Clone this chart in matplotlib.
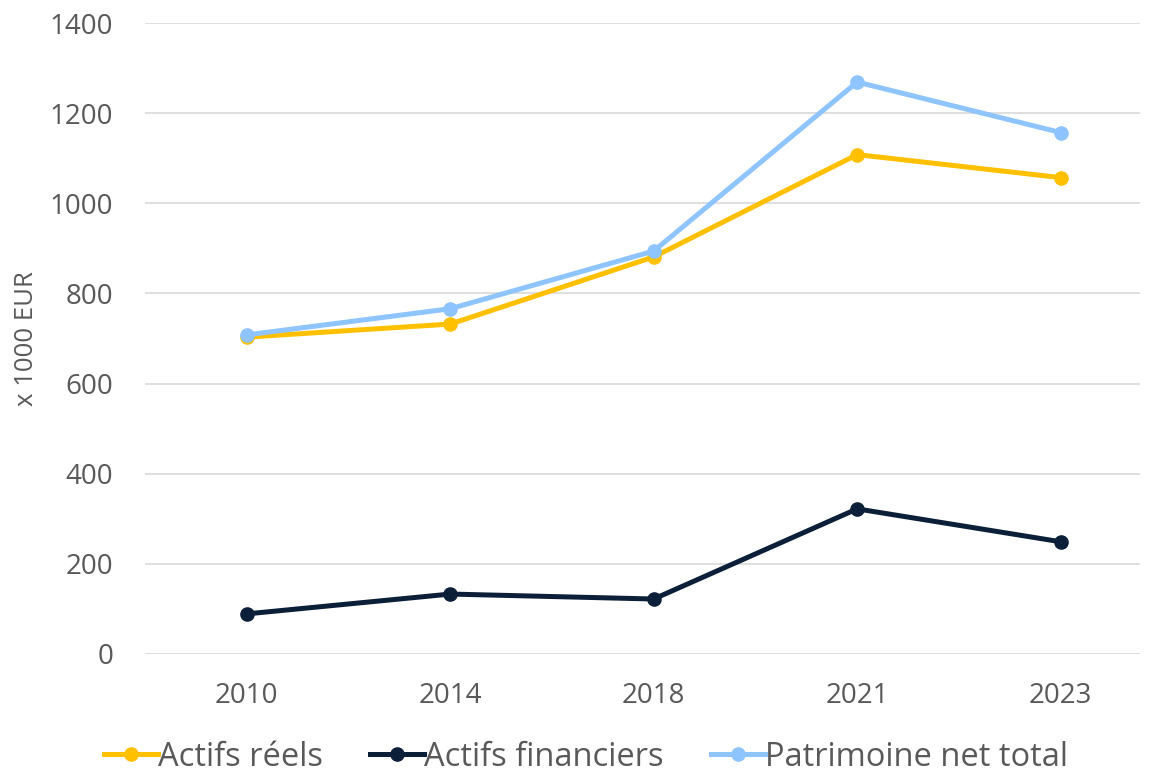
import matplotlib
matplotlib.use("Agg")
import matplotlib.pyplot as plt

years = ["2010", "2014", "2018", "2021", "2023"]
actifs_reels = [703, 732, 881, 1108, 1057]
actifs_financiers = [89, 133, 122, 322, 249]
patrimoine_net = [708, 766, 894, 1269, 1157]
yticks = [0, 200, 400, 600, 800, 1000, 1200, 1400]

plt.rcParams['font.family'] = ['Open Sans', 'DejaVu Sans']
gray = "#595959"

fig = plt.figure(figsize=(11.55, 7.75), dpi=100)
ax = fig.add_axes([145/1155, 1-654/775, (1140-145)/1155, (654-23)/775])

x = list(range(len(years)))
lw = 3.6
ms = 9.5
ax.plot(x, actifs_reels, color="#FFC000", lw=lw, marker="o", ms=ms, label="Actifs réels", zorder=3)
ax.plot(x, actifs_financiers, color="#0C1F38", lw=lw, marker="o", ms=ms, label="Actifs financiers", zorder=3)
ax.plot(x, patrimoine_net, color="#8EC4FF", lw=lw, marker="o", ms=ms, label="Patrimoine net total", zorder=4)

ax.set_xlim(-0.5, 4.39)
ax.set_ylim(0, 1400)
ax.set_yticks(yticks)
ax.set_xticks(x)
ax.set_xticklabels(years)
ax.grid(axis="y", color="#D9D9D9", lw=1.2)
ax.set_axisbelow(True)
for s in ax.spines.values():
    s.set_visible(False)
ax.tick_params(axis="both", length=0, labelsize=20, colors=gray)
ax.tick_params(axis="y", pad=23)
ax.tick_params(axis="x", pad=20)
ax.set_ylabel("x 1000 EUR", fontsize=18.5, color=gray)
ax.yaxis.set_label_coords(-0.1065, 0.5)

leg = fig.legend(loc="center", bbox_to_anchor=(0.507, 1-757/775), ncol=3, frameon=False,
                 fontsize=23.5, handlelength=1.65, handletextpad=0.0, columnspacing=1.45,
                 labelcolor=gray, markerscale=1.0)

fig.savefig("out.png", dpi=100)
